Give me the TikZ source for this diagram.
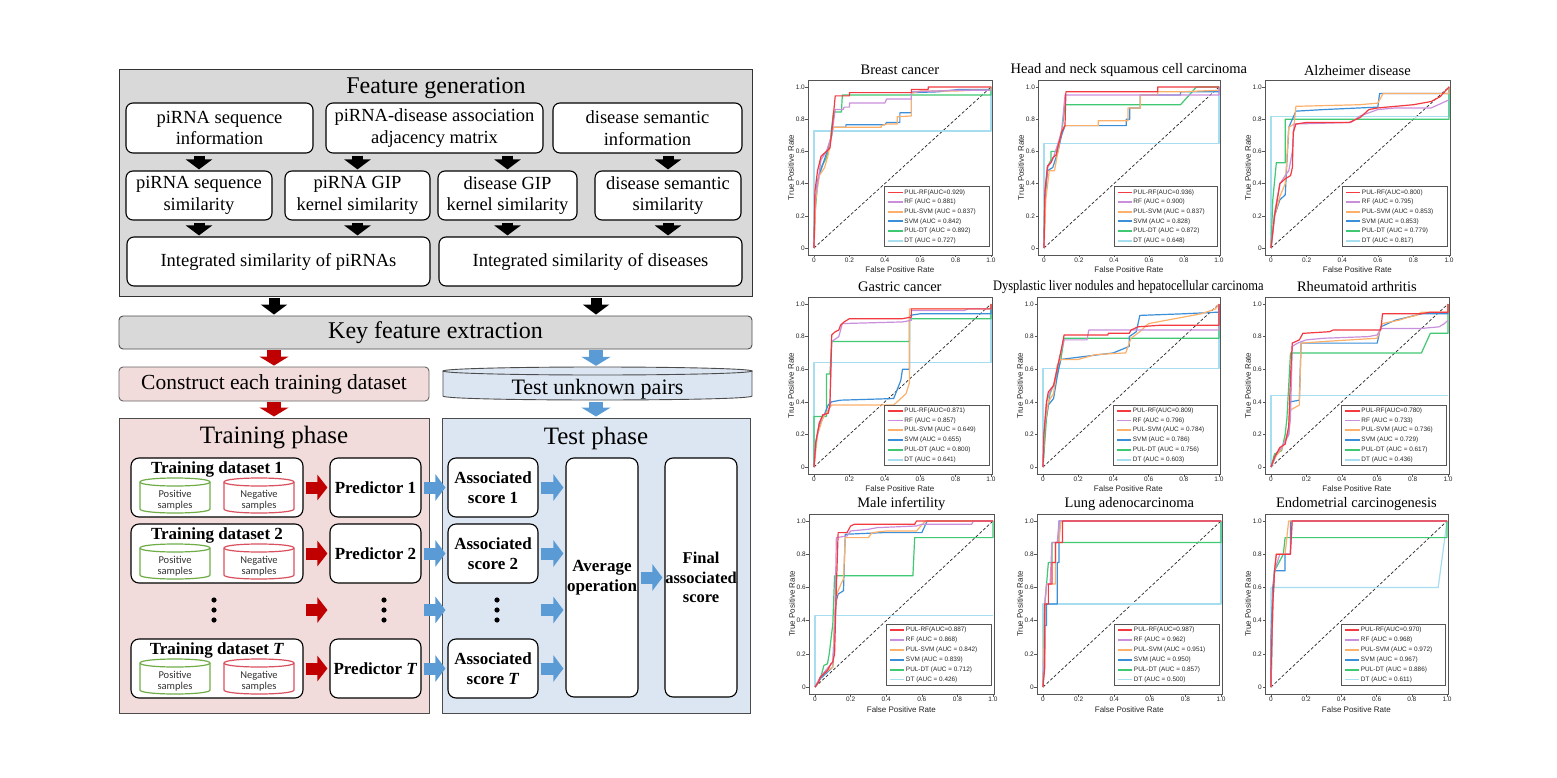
\documentclass[tikz,border=0pt]{standalone}
\usepackage{fontspec}
\usepackage{graphicx}
\setmainfont{Liberation Serif}
\newfontfamily\sansf{Liberation Sans}
\newfontfamily\carl{Carlito}
\usetikzlibrary{arrows.meta}
\definecolor{fgfill}{HTML}{D9D9D9}
\definecolor{pinkf}{HTML}{F2DCDB}
\definecolor{bluef}{HTML}{DCE6F2}
\definecolor{darkred}{HTML}{C00000}
\definecolor{arrblue}{HTML}{5B9BD5}
\definecolor{cylgreen}{HTML}{70AD47}
\definecolor{cylred}{HTML}{D9505F}
\definecolor{cRF}{HTML}{F23A40}
\definecolor{cRFq}{HTML}{C98FDB}
\definecolor{cSVMp}{HTML}{FDB06A}
\definecolor{cSVM}{HTML}{3B8ED8}
\definecolor{cDTp}{HTML}{40C873}
\definecolor{cDT}{HTML}{A6DDEF}
\definecolor{axgray}{HTML}{555555}

\newcommand\smallcyl[3]{%
 \draw[#3, line width=1.2pt, fill=white] (#1-35,#2+4) -- (#1-35,#2+31) .. controls (#1-35,#2+36.33) and (#1+35,#2+36.33) .. (#1+35,#2+31) -- (#1+35,#2+4) .. controls (#1+35,#2-1.33) and (#1-35,#2-1.33) .. (#1-35,#2+4) -- cycle;
 \draw[#3, line width=1.2pt] (#1-35,#2+4) .. controls (#1-35,#2+9.33) and (#1+35,#2+9.33) .. (#1+35,#2+4);
}

\newcommand\trainrow[3]{%
 \node[bbox, minimum width=172, minimum height=59] (td#1) at (217,#2) {};
 \node[font=\bfseries\fontsize{17}{19}\selectfont] (tdt#1) at (217,#2-18.5) {Training dataset #3};
 \smallcyl{175}{#2-9.5}{cylgreen}
 \smallcyl{259}{#2-9.5}{cylred}
 \node[smallt] (pos#1) at (175,#2+13) {Positive\\samples};
 \node[smallt] (neg#1) at (259,#2+13) {Negative\\samples};
 \node[bbox, minimum width=91, minimum height=59] (pr#1) at (375.5,#2) {Predictor #3};
 \node[bbox, minimum width=90, minimum height=59] (as#1) at (493,#2) {Associated\\score #3};
 \draw[redh] (td#1) -- (pr#1);
 \draw[blueh] (pr#1) -- (as#1);
 \draw[blueh] (as#1.east) -- (as#1.east -| avg.west);
}

\newcommand\legrow[3]{%
 \draw[draw=#1, line width=1.9pt] (0.42,#2) -- (0.50,#2);
 \node[legt, anchor=west] at (0.51,#2) {#3};
}

\newcommand\rocaxes[1]{%
 \draw[axgray, line width=0.7pt] (-0.034,-0.043) rectangle (1.005,1.043);
 \foreach \v/\l [count=\i] in {0/0,0.2/0.2,0.4/0.4,0.6/0.6,0.8/0.8,1/1.0} {
   \draw[axgray, line width=0.6pt] (\v,-0.043) -- ++(0,-2.5pt);
   \node[tickt, anchor=north] (xt\i) at ([yshift=-3pt]\v,-0.043) {\l};
   \draw[axgray, line width=0.6pt] (-0.034,\v) -- ++(-2.5pt,0);
   \node[tickt, anchor=east] (yt\i) at ([xshift=-3pt]-0.034,\v) {\l};
 }
 \node[axt, rotate=90] (ylab) at ([xshift=-17pt]-0.034,0.5) {True Positive Rate};
 \node[axt] (xlab) at ([yshift=-15pt]0.485,-0.043) {False Positive Rate};
 \node[titt] (ttl) at ([yshift=10pt]0.485,1.043) {#1};
 \draw[black!85, line width=0.7pt, dash pattern=on 3pt off 2pt] (0,0) -- (1,1);
}

\newcommand\roclegend[6]{%
 \draw[axgray, line width=0.8pt, fill=white] (0.40,0.01) rectangle (0.99,0.38);
 \legrow{cRF}{0.345}{PUL-RF(AUC=#1)}
 \legrow{cRFq}{0.285}{RF (AUC = #2)}
 \legrow{cSVMp}{0.225}{PUL-SVM (AUC = #3)}
 \legrow{cSVM}{0.165}{SVM (AUC = #4)}
 \legrow{cDTp}{0.105}{PUL-DT (AUC = #5)}
 \legrow{cDT}{0.045}{DT (AUC = #6)}
}

\begin{document}
\begin{tikzpicture}[x=1pt,y=-1pt,
 fgbox/.style={draw=black!80, line width=0.9pt, fill=fgfill, inner sep=0pt},
 wbox/.style={draw=black, line width=1.1pt, fill=white, rounded corners=7pt, align=center, inner sep=0pt, font=\fontsize{18.5}{21.5}\selectfont},
 bbox/.style={draw=black, line width=1.1pt, fill=white, rounded corners=8pt, align=center, inner sep=0pt, font=\bfseries\fontsize{17}{19.5}\selectfont},
 smallt/.style={align=center, inner sep=0pt, font=\carl\fontsize{10.5}{11}\selectfont, text=black!80},
 blk/.style={line width=11pt, black, -{Triangle[width=26pt,length=10pt]}, shorten <=2pt, shorten >=1pt},
 redv/.style={line width=14pt, darkred, -{Triangle[width=29pt,length=9pt]}, shorten <=1pt, shorten >=1pt},
 bluev/.style={line width=14pt, arrblue, -{Triangle[width=29pt,length=9pt]}, shorten <=1pt, shorten >=1pt},
 redh/.style={line width=12pt, darkred, -{Triangle[width=25pt,length=10pt]}, shorten <=2pt, shorten >=2pt},
 blueh/.style={line width=12pt, arrblue, -{Triangle[width=26pt,length=10pt]}, shorten <=2pt, shorten >=2pt},
 tickt/.style={inner sep=0pt, font=\sansf\fontsize{6.5}{7}\selectfont, text=black!85},
 axt/.style={inner sep=0pt, font=\sansf\fontsize{8}{9}\selectfont, text=black!85},
 titt/.style={inner sep=0pt, font=\fontsize{14.5}{16}\selectfont},
 legt/.style={inner sep=0pt, font=\sansf\fontsize{6.4}{7}\selectfont, text=black!85},
 crv/.style={line width=1.2pt, line join=round}
]
\useasboundingbox (0,0) rectangle (1557,778);
\fill[white] (0,0) rectangle (1557,778);

% ---------- Feature generation ----------
\node[fgbox, minimum width=633, minimum height=227] (fg) at (435.5,182.5) {};
\node[font=\fontsize{24}{28}\selectfont] (fgt) at (436,88) {Feature generation};
\node[wbox, minimum width=187, minimum height=50] (i1) at (219.5,128) {piRNA sequence\\information};
\node[wbox, minimum width=217, minimum height=50] (i2) at (434.5,128) {piRNA-disease association\\adjacency matrix};
\node[wbox, minimum width=189, minimum height=50] (i3) at (647.5,128) {disease semantic\\information};
\node[wbox, minimum width=146, minimum height=49] (s1) at (199,195.5) {piRNA sequence\\similarity};
\node[wbox, minimum width=145, minimum height=49] (s2) at (357.5,195.5) {piRNA GIP\\kernel similarity};
\node[wbox, minimum width=139, minimum height=49] (s3) at (507.5,195.5) {disease GIP\\kernel similarity};
\node[wbox, minimum width=146, minimum height=49] (s4) at (668,195.5) {disease semantic\\similarity};
\node[wbox, minimum width=303, minimum height=49] (g1) at (278.5,261.5) {Integrated similarity of piRNAs};
\node[wbox, minimum width=303, minimum height=49] (g2) at (590.5,261.5) {Integrated similarity of diseases};
\draw[blk] (s1.north |- i1.south) -- (s1.north);
\draw[blk] (s2.north |- i2.south) -- (s2.north);
\draw[blk] (s3.north |- i2.south) -- (s3.north);
\draw[blk] (s4.north |- i3.south) -- (s4.north);
\draw[blk] (s1.south) -- (s1.south |- g1.north);
\draw[blk] (s2.south) -- (s2.south |- g1.north);
\draw[blk] (s3.south) -- (s3.south |- g2.north);
\draw[blk] (s4.south) -- (s4.south |- g2.north);

% ---------- Key feature extraction ----------
\node[draw=black!70, line width=0.9pt, fill=fgfill, rounded corners=4pt, minimum width=633, minimum height=33, inner sep=0pt, font=\fontsize{24}{28}\selectfont] (key) at (435.5,332.5) {Key feature extraction};
\node[draw=black!70, line width=1pt, fill=pinkf, minimum width=310, minimum height=295, inner sep=0pt] (train) at (274,565.5) {};
\node[draw=black!70, line width=1pt, fill=bluef, minimum width=308, minimum height=295, inner sep=0pt] (test) at (596,565.5) {};
\draw[blk] (train.north |- fg.south) -- (train.north |- key.north);
\draw[blk] (test.north |- fg.south) -- (test.north |- key.north);

\node[draw=black!60, line width=0.9pt, fill=pinkf, rounded corners=4pt, minimum width=310, minimum height=34, inner sep=0pt, font=\fontsize{21.5}{25}\selectfont] (cons) at (274,384) {Construct each training dataset};
\fill[bluef] (443,371) -- (443,396) .. controls (443,401.33) and (752,401.33) .. (752,396) -- (752,371) .. controls (752,365.67) and (443,365.67) .. (443,371) -- cycle;
\draw[black!70, line width=0.9pt] (443,371) -- (443,396) .. controls (443,401.33) and (752,401.33) .. (752,396) -- (752,371);
\draw[black!70, line width=0.9pt] (597.5,371) ellipse [x radius=154.5, y radius=4];
\node[minimum width=309, minimum height=34, inner sep=0pt] (tup) at (597.5,384) {};
\node[font=\fontsize{22}{26}\selectfont] (tupt) at (597.5,389) {Test unknown pairs};

\draw[redv] (train.north |- key.south) -- (train.north |- cons.north);
\draw[redv] (cons.south -| train.north) -- (train.north);
\draw[bluev] (test.north |- key.south) -- (test.north |- tup.north);
\draw[bluev] (test.north |- tup.south) -- (test.north);

\node[font=\fontsize{25}{29}\selectfont] (trt) at (274,438) {Training phase};
\node[font=\fontsize{25}{29}\selectfont] (tet) at (596,438) {Test phase};

\node[bbox, minimum width=72, minimum height=239] (avg) at (602,577.5) {Average\\operation};
\node[bbox, minimum width=72, minimum height=239, font=\bfseries\fontsize{16.5}{19.5}\selectfont] (fin) at (701,577.5) {Final\\associated\\score};
\draw[blueh] (avg) -- (fin);

\trainrow{1}{487.5}{1}
\trainrow{2}{553.5}{2}
\trainrow{3}{668.5}{\textit{T}}

\coordinate (dots1) at (214,610);
\coordinate (dots2) at (384,610);
\coordinate (dots3) at (497,610);
\foreach \c in {dots1,dots2,dots3} {
  \foreach \dy in {-10,0,10} { \fill ([yshift=\dy pt]\c) circle (2.6pt); }
}
\draw[redh] (td1.east |- dots1) -- (pr1.west |- dots1);
\draw[blueh] (pr1.east |- dots1) -- (as1.west |- dots1);
\draw[blueh] (as1.east |- dots1) -- (avg.west |- dots1);

% ---------- ROC plots ----------
% 1 Breast cancer
\begin{scope}[shift={(814,248)}, x=177pt, y=161pt]
\rocaxes{Breast cancer}
\draw[crv,cDT] (0,0)--(0,0.727)--(1,0.727)--(1,1);
\draw[crv,cDTp] (0,0)--(0.005,0.2)--(0.02,0.4)--(0.04,0.5)--(0.07,0.56)--(0.09,0.64)--(0.1,0.75)--(0.11,0.845)--(0.155,0.845)--(0.16,0.95)--(1,0.95)--(1,1);
\draw[crv,cSVM] (0,0)--(0.005,0.25)--(0.02,0.42)--(0.05,0.52)--(0.08,0.62)--(0.1,0.7)--(0.1,0.75)--(0.18,0.75)--(0.18,0.765)--(0.4,0.765)--(0.41,0.78)--(0.485,0.78)--(0.485,0.84)--(0.55,0.84)--(0.55,0.965)--(0.7,0.97)--(0.82,0.985)--(1,0.985)--(1,1);
\draw[crv,cSVMp] (0,0)--(0.01,0.3)--(0.03,0.45)--(0.06,0.5)--(0.08,0.58)--(0.1,0.7)--(0.11,0.75)--(0.38,0.75)--(0.38,0.76)--(0.41,0.77)--(0.47,0.77)--(0.47,0.815)--(0.55,0.82)--(0.55,0.96)--(0.6,0.975)--(0.8,0.975)--(0.9,0.98)--(1,0.98)--(1,1);
\draw[crv,cRFq] (0,0)--(0.005,0.3)--(0.02,0.4)--(0.04,0.55)--(0.07,0.6)--(0.1,0.7)--(0.12,0.86)--(0.165,0.86)--(0.17,0.875)--(0.2,0.875)--(0.2,0.9)--(0.4,0.9)--(0.41,0.925)--(0.55,0.925)--(0.55,0.97)--(0.8,0.98)--(1,0.98);
\draw[crv,cRF] (0,0)--(0.005,0.35)--(0.02,0.48)--(0.04,0.57)--(0.07,0.6)--(0.09,0.62)--(0.1,0.72)--(0.11,0.83)--(0.12,0.945)--(0.2,0.945)--(0.2,0.965)--(0.55,0.965)--(0.55,0.985)--(0.645,0.985)--(0.645,1)--(1,1);
\roclegend{0.929}{0.881}{0.837}{0.842}{0.892}{0.727}
\end{scope}
% 2 Head and neck
\begin{scope}[shift={(1044,248)}, x=175pt, y=161pt]
\rocaxes{Head and neck squamous cell carcinoma}
\draw[crv,cDT] (0,0)--(0,0.648)--(1,0.648)--(1,1);
\draw[crv,cDTp] (0,0)--(0.005,0.3)--(0.02,0.5)--(0.04,0.55)--(0.04,0.6)--(0.07,0.6)--(0.1,0.7)--(0.12,0.89)--(0.78,0.89)--(0.83,0.95)--(0.87,1)--(1,1);
\draw[crv,cSVM] (0,0)--(0.005,0.3)--(0.02,0.48)--(0.05,0.5)--(0.08,0.6)--(0.1,0.7)--(0.12,0.76)--(0.47,0.76)--(0.47,0.8)--(0.49,0.8)--(0.49,0.87)--(0.55,0.87)--(0.55,0.95)--(0.78,0.95)--(0.78,0.97)--(1,0.97)--(1,1);
\draw[crv,cSVMp] (0,0)--(0.01,0.3)--(0.03,0.48)--(0.06,0.48)--(0.08,0.6)--(0.1,0.73)--(0.12,0.76)--(0.31,0.76)--(0.31,0.79)--(0.48,0.79)--(0.48,0.87)--(0.55,0.87)--(0.55,0.95)--(0.65,0.95)--(0.65,0.97)--(0.78,0.97)--(1,0.98)--(1,1);
\draw[crv,cRFq] (0,0)--(0.005,0.35)--(0.02,0.5)--(0.05,0.55)--(0.08,0.65)--(0.1,0.72)--(0.12,0.95)--(1,0.95)--(1,1);
\draw[crv,cRF] (0,0)--(0.005,0.35)--(0.02,0.51)--(0.04,0.53)--(0.05,0.56)--(0.07,0.58)--(0.08,0.63)--(0.09,0.67)--(0.1,0.72)--(0.12,0.76)--(0.125,0.97)--(0.65,0.97)--(0.65,1)--(1,1);
\roclegend{0.936}{0.900}{0.837}{0.828}{0.872}{0.648}
\end{scope}
% 3 Alzheimer
\begin{scope}[shift={(1271,248)}, x=178pt, y=161pt]
\rocaxes{Alzheimer disease}
\draw[crv,cDT] (0,0)--(0,0.817)--(1,0.817)--(1,1);
\draw[crv,cDTp] (0,0)--(0.01,0.3)--(0.03,0.53)--(0.08,0.53)--(0.08,0.8)--(1,0.8)--(1,1);
\draw[crv,cSVM] (0,0)--(0.02,0.2)--(0.05,0.3)--(0.08,0.33)--(0.09,0.55)--(0.1,0.75)--(0.12,0.8)--(0.14,0.85)--(0.3,0.86)--(0.6,0.875)--(0.61,0.96)--(1,0.96)--(1,1);
\draw[crv,cSVMp] (0,0)--(0.02,0.2)--(0.05,0.32)--(0.08,0.4)--(0.1,0.75)--(0.13,0.77)--(0.14,0.88)--(0.5,0.89)--(0.6,0.9)--(0.63,0.96)--(1,0.96)--(1,1);
\draw[crv,cRFq] (0,0)--(0.02,0.22)--(0.05,0.4)--(0.08,0.45)--(0.1,0.48)--(0.12,0.6)--(0.13,0.77)--(0.45,0.78)--(0.5,0.82)--(0.6,0.86)--(0.7,0.87)--(0.9,0.87)--(1,0.92);
\draw[crv,cRF] (0,0)--(0.02,0.2)--(0.05,0.4)--(0.08,0.43)--(0.11,0.45)--(0.12,0.5)--(0.125,0.72)--(0.14,0.77)--(0.2,0.78)--(0.44,0.78)--(0.5,0.81)--(0.55,0.86)--(0.6,0.87)--(0.7,0.88)--(0.8,0.89)--(0.9,0.91)--(0.95,0.94)--(1,1);
\roclegend{0.800}{0.795}{0.853}{0.853}{0.779}{0.817}
\end{scope}
% 4 Gastric
\begin{scope}[shift={(814,467)}, x=177pt, y=163pt]
\rocaxes{Gastric cancer}
\draw[crv,cDT] (0,0)--(0,0.64)--(1,0.64)--(1,1);
\draw[crv,cDTp] (0,0)--(0,0.31)--(0.07,0.31)--(0.07,0.57)--(0.09,0.57)--(0.1,0.77)--(0.54,0.77)--(0.54,0.91)--(1,0.91)--(1,1);
\draw[crv,cSVM] (0,0)--(0.01,0.15)--(0.03,0.25)--(0.05,0.3)--(0.08,0.38)--(0.1,0.4)--(0.15,0.41)--(0.45,0.42)--(0.49,0.53)--(0.5,0.6)--(0.54,0.6)--(0.54,0.93)--(0.6,0.94)--(1,0.94)--(1,1);
\draw[crv,cSVMp] (0,0)--(0.02,0.2)--(0.05,0.3)--(0.08,0.35)--(0.1,0.38)--(0.45,0.38)--(0.48,0.41)--(0.52,0.45)--(0.54,0.52)--(0.54,0.97)--(1,0.97)--(1,1);
\draw[crv,cRFq] (0,0)--(0.01,0.15)--(0.03,0.27)--(0.05,0.32)--(0.08,0.33)--(0.09,0.38)--(0.1,0.77)--(0.14,0.8)--(0.16,0.88)--(0.5,0.89)--(0.55,0.9)--(0.55,0.96)--(0.85,0.96)--(0.87,0.97)--(1,0.97);
\draw[crv,cRF] (0,0)--(0.01,0.15)--(0.03,0.27)--(0.05,0.32)--(0.08,0.33)--(0.09,0.38)--(0.1,0.81)--(0.12,0.83)--(0.14,0.84)--(0.15,0.87)--(0.17,0.89)--(0.2,0.91)--(0.5,0.91)--(0.55,0.92)--(0.55,0.97)--(1,0.97)--(1,1);
\roclegend{0.871}{0.857}{0.649}{0.655}{0.800}{0.641}
\end{scope}
% 5 Dysplastic
\begin{scope}[shift={(1043,467)}, x=176pt, y=163pt]
\rocaxes{\scalebox{0.86}[1]{Dysplastic liver nodules and hepatocellular carcinoma}}
\draw[crv,cDT] (0,0)--(0,0.605)--(1,0.605)--(1,1);
\draw[crv,cDTp] (0,0)--(0.02,0.3)--(0.04,0.45)--(0.07,0.53)--(0.1,0.65)--(0.11,0.72)--(0.12,0.79)--(1,0.79)--(1,1);
\draw[crv,cSVM] (0,0)--(0.01,0.25)--(0.03,0.38)--(0.06,0.42)--(0.08,0.55)--(0.1,0.66)--(0.25,0.68)--(0.4,0.7)--(0.49,0.74)--(0.49,0.8)--(0.53,0.83)--(0.55,0.93)--(0.8,0.94)--(1,0.95)--(1,1);
\draw[crv,cSVMp] (0,0)--(0.01,0.25)--(0.03,0.4)--(0.06,0.45)--(0.08,0.62)--(0.1,0.66)--(0.2,0.66)--(0.3,0.69)--(0.47,0.7)--(0.5,0.79)--(0.55,0.83)--(0.6,0.88)--(0.7,0.9)--(0.9,0.94)--(0.98,0.97)--(1,1);
\draw[crv,cRFq] (0,0)--(0.005,0.2)--(0.02,0.4)--(0.04,0.46)--(0.06,0.5)--(0.08,0.6)--(0.1,0.7)--(0.12,0.78)--(0.25,0.78)--(0.26,0.84)--(1,0.84)--(1,1);
\draw[crv,cRF] (0,0)--(0.005,0.2)--(0.02,0.4)--(0.03,0.46)--(0.06,0.5)--(0.08,0.6)--(0.1,0.7)--(0.12,0.81)--(0.37,0.81)--(0.37,0.82)--(0.49,0.82)--(0.5,0.84)--(0.54,0.86)--(0.67,0.87)--(1,0.87)--(1,1);
\roclegend{0.809}{0.796}{0.784}{0.786}{0.756}{0.603}
\end{scope}
% 6 Rheumatoid
\begin{scope}[shift={(1271,467)}, x=177pt, y=163pt]
\rocaxes{Rheumatoid arthritis}
\draw[crv,cDT] (0,0)--(0,0.44)--(1,0.44);
\draw[crv,cDTp] (0,0)--(0.02,0.08)--(0.06,0.1)--(0.08,0.2)--(0.09,0.3)--(0.11,0.7)--(0.85,0.7)--(0.9,0.82)--(1,0.82)--(1,1);
\draw[crv,cSVM] (0,0)--(0.03,0.08)--(0.06,0.12)--(0.1,0.2)--(0.11,0.4)--(0.16,0.41)--(0.17,0.76)--(0.6,0.76)--(0.62,0.86)--(0.7,0.9)--(0.85,0.94)--(1,0.94)--(1,1);
\draw[crv,cSVMp] (0,0)--(0.03,0.07)--(0.06,0.11)--(0.1,0.22)--(0.11,0.35)--(0.16,0.38)--(0.17,0.76)--(0.3,0.77)--(0.6,0.79)--(0.63,0.88)--(0.72,0.9)--(0.78,0.92)--(0.82,0.93)--(0.85,0.95)--(1,0.95)--(1,1);
\draw[crv,cRFq] (0,0)--(0.03,0.08)--(0.06,0.12)--(0.1,0.2)--(0.11,0.3)--(0.12,0.74)--(0.15,0.76)--(0.2,0.78)--(0.3,0.79)--(0.55,0.8)--(0.6,0.81)--(0.62,0.85)--(0.85,0.85)--(0.95,0.86)--(0.98,0.88)--(1,0.9);
\draw[crv,cRF] (0,0)--(0.02,0.06)--(0.05,0.12)--(0.08,0.14)--(0.1,0.25)--(0.11,0.55)--(0.12,0.76)--(0.16,0.78)--(0.18,0.82)--(0.33,0.83)--(0.35,0.84)--(0.62,0.84)--(0.63,0.94)--(0.85,0.94)--(0.9,0.95)--(1,0.95)--(1,1);
\roclegend{0.780}{0.733}{0.736}{0.729}{0.617}{0.436}
\end{scope}
% 7 Male infertility
\begin{scope}[shift={(815,687)}, x=178pt, y=166pt]
\rocaxes{Male infertility}
\draw[crv,cDT] (0,0)--(0,0.43)--(1,0.43);
\draw[crv,cDTp] (0,0)--(0.03,0.05)--(0.05,0.13)--(0.07,0.14)--(0.08,0.2)--(0.1,0.38)--(0.11,0.67)--(0.55,0.67)--(0.56,0.9)--(1,0.9)--(1,1);
\draw[crv,cSVM] (0,0)--(0.03,0.05)--(0.06,0.08)--(0.1,0.12)--(0.11,0.4)--(0.12,0.52)--(0.13,0.56)--(0.16,0.58)--(0.17,0.92)--(0.38,0.93)--(0.6,0.93)--(0.63,1)--(1,1);
\draw[crv,cSVMp] (0,0)--(0.03,0.06)--(0.06,0.09)--(0.1,0.12)--(0.11,0.4)--(0.12,0.55)--(0.13,0.58)--(0.15,0.63)--(0.16,0.65)--(0.17,0.9)--(0.3,0.9)--(0.32,0.93)--(0.4,0.94)--(0.57,0.94)--(0.62,1)--(1,1);
\draw[crv,cRFq] (0,0)--(0.03,0.06)--(0.06,0.1)--(0.1,0.15)--(0.11,0.3)--(0.12,0.9)--(0.18,0.91)--(0.2,0.94)--(0.3,0.95)--(0.35,0.96)--(0.57,0.97)--(0.6,0.98)--(0.88,0.98)--(0.89,1)--(1,1);
\draw[crv,cRF] (0,0)--(0.02,0.03)--(0.03,0.06)--(0.05,0.08)--(0.07,0.1)--(0.09,0.14)--(0.1,0.15)--(0.11,0.2)--(0.12,0.6)--(0.13,0.93)--(0.18,0.93)--(0.2,0.97)--(0.22,0.98)--(0.56,0.98)--(0.57,1)--(1,1);
\roclegend{0.887}{0.868}{0.842}{0.839}{0.712}{0.426}
\end{scope}
% 8 Lung adenocarcinoma
\begin{scope}[shift={(1043,687)}, x=178pt, y=166pt]
\rocaxes{Lung adenocarcinoma}
\draw[crv,cDT] (0,0)--(0,0.5)--(1,0.5)--(1,1);
\draw[crv,cDTp] (0,0)--(0.01,0.5)--(0.02,0.62)--(0.03,0.75)--(0.05,0.75)--(0.05,0.87)--(1,0.87)--(1,1);
\draw[crv,cSVM] (0,0)--(0.005,0.13)--(0.01,0.25)--(0.01,0.37)--(0.02,0.37)--(0.02,0.5)--(0.08,0.5)--(0.08,0.75)--(0.09,0.75)--(0.09,1)--(1,1);
\draw[crv,cSVMp] (0,0)--(0.01,0.5)--(0.02,0.62)--(0.07,0.62)--(0.07,0.87)--(0.09,0.87)--(0.1,1)--(1,1);
\draw[crv,cRFq] (0,0)--(0.01,0.25)--(0.01,0.5)--(0.02,0.62)--(0.04,0.62)--(0.05,0.87)--(0.08,0.87)--(0.09,1)--(1,1);
\draw[crv,cRF] (0,0)--(0.01,0.12)--(0.01,0.5)--(0.03,0.5)--(0.03,0.62)--(0.05,0.62)--(0.05,0.75)--(0.07,0.75)--(0.07,0.87)--(0.11,0.87)--(0.11,1)--(1,1);
\roclegend{0.987}{0.962}{0.951}{0.950}{0.857}{0.500}
\end{scope}
% 9 Endometrial
\begin{scope}[shift={(1271,687)}, x=176pt, y=166pt]
\rocaxes{Endometrial carcinogenesis}
\draw[crv,cDT] (0,0)--(0,0.6)--(0.95,0.6)--(1,1);
\draw[crv,cDTp] (0,0)--(0.01,0.5)--(0.02,0.7)--(0.07,0.8)--(0.08,0.9)--(1,0.9)--(1,1);
\draw[crv,cSVM] (0,0)--(0,0.3)--(0.01,0.6)--(0.02,0.7)--(0.08,0.7)--(0.08,0.8)--(0.11,0.8)--(0.11,1)--(1,1);
\draw[crv,cSVMp] (0,0)--(0.01,0.5)--(0.02,0.7)--(0.03,0.8)--(0.08,0.8)--(0.1,1)--(1,1);
\draw[crv,cRFq] (0,0)--(0.01,0.5)--(0.02,0.7)--(0.05,0.8)--(0.11,0.8)--(0.12,1)--(1,1);
\draw[crv,cRF] (0,0)--(0,0.1)--(0.01,0.5)--(0.02,0.7)--(0.03,0.8)--(0.11,0.8)--(0.12,1)--(1,1);
\roclegend{0.970}{0.968}{0.972}{0.967}{0.886}{0.611}
\end{scope}
\end{tikzpicture}
\end{document}
